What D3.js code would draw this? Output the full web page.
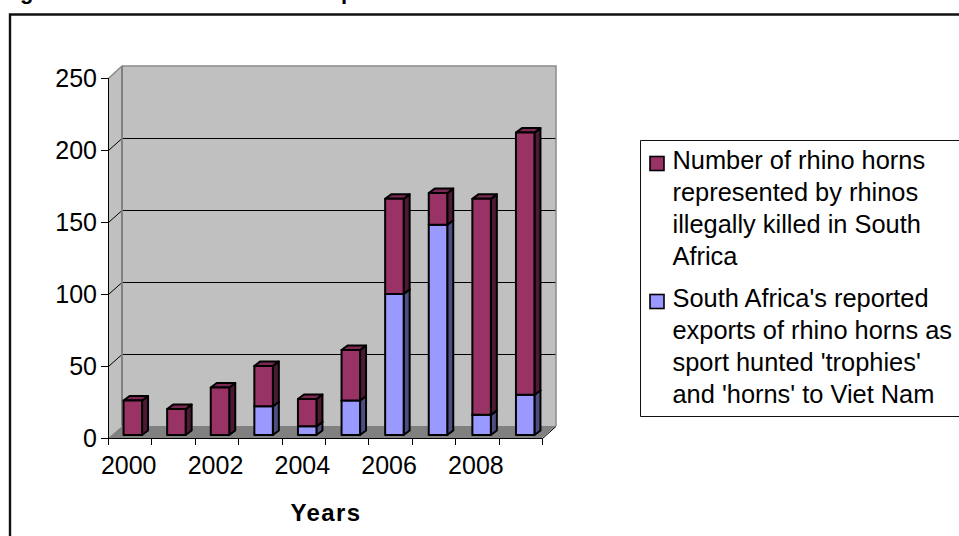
<!DOCTYPE html>
<html><head><meta charset="utf-8">
<script src="https://cdn.jsdelivr.net/npm/d3@7"></script>
<style>html,body{margin:0;background:#fff;overflow:hidden}svg{display:block}text{font-family:"Liberation Sans",Arial,sans-serif;fill:#000}</style>
</head><body><svg id="c" width="959" height="536"></svg>
<script>
const years=[2000,2001,2002,2003,2004,2005,2006,2007,2008,2009];
const exportsHorns=[0,0,0,20,6,24,98,146,14,28];
const killedHorns=[24,18,33,28,19,35,66,22,150,182];
const yTicks=[0,50,100,150,200,250];
const xTickLabels=[2000,2002,2004,2006,2008];
const legendKilled=["Number of rhino horns","represented by rhinos","illegally killed in South","Africa"];
const legendExports=["South Africa's reported","exports of rhino horns as","sport hunted 'trophies'","and 'horns' to Viet Nam"];
const FONT='"Liberation Sans",Arial,sans-serif';

const svg=d3.select("#c");
const x=d3.scaleBand().domain(years).range([108,542]);
const barX=d3.scaleBand().domain(years).range([111,547]);
const y=d3.scaleLinear().domain([0,250]).range([438,78]);
const wallDx=14,wallDy=-12,gapDy=-3,barDx=6,barDy=-4.5,barW=18.5;

// frame
svg.append("path").attr("d","M10 536V14.5H959").attr("fill","none").attr("stroke","#111").attr("stroke-width",2.4);
// title: only the descenders survive the crop at the top of the picture
svg.append("text").attr("x",0.5).attr("y",-1).attr("font-size",22).attr("font-weight","bold").text("Figure");
svg.append("text").attr("x",341).attr("y",-1).attr("font-size",22).attr("font-weight","bold").text("p");

const x0=x.range()[0],x1=x.range()[1];
// walls
svg.append("path").attr("d",`M${x0} ${y(250)}L${x0+wallDx} ${y(250)+wallDy}V${y(0)+wallDy}L${x0} ${y(0)}Z`).attr("fill","#c0c0c0");
svg.append("rect").attr("x",x0+wallDx).attr("y",y(250)+wallDy).attr("width",x1-x0).attr("height",y(0)-y(250)).attr("fill","#c0c0c0");
svg.append("path").attr("d",`M${x0} ${y(0)}L${x0+wallDx} ${y(0)+wallDy}H${x1+wallDx}L${x1} ${y(0)}Z`).attr("fill","#808080");
// grid
yTicks.filter(d=>d>0&&d<250).forEach(d=>{
  svg.append("path").attr("d",`M${x0+.5} ${y(d)+.5}L${x0+wallDx} ${y(d)+wallDy+.5}H${x1+wallDx}`).attr("fill","none").attr("stroke","#000").attr("stroke-width",1);
});
svg.append("path").attr("d",`M${x0+.5} ${y(250)+.5}L${x0+wallDx} ${y(250)+wallDy}H${x1+wallDx}V${y(0)+wallDy}`).attr("fill","none").attr("stroke","#8c8c8c").attr("stroke-width",1.5);
svg.append("path").attr("d",`M${x0+wallDx} ${y(250)+wallDy}V${y(0)+wallDy}`).attr("fill","none").attr("stroke","#808080").attr("stroke-width",2);
svg.append("path").attr("d",`M${x1+.5} ${y(0)+.5}L${x1+wallDx} ${y(0)+wallDy+.5}`).attr("fill","none").attr("stroke","#000").attr("stroke-width",1);

// bars
const base=y(0)+gapDy;
const scaleH=v=>y(0)-y(v);
function seg(px,y0,y1,face,side,top){
  const g=svg.append("g").attr("stroke","#000").attr("stroke-width",2).attr("stroke-linejoin","round");
  g.append("path").attr("d",`M${px+barW} ${y0}L${px+barW+barDx} ${y0+barDy}V${y1+barDy}L${px+barW} ${y1}Z`).attr("fill",side);
  g.append("path").attr("d",`M${px} ${y1}L${px+barDx} ${y1+barDy}H${px+barW+barDx}L${px+barW} ${y1}Z`).attr("fill",top);
  g.append("rect").attr("x",px).attr("y",y1).attr("width",barW).attr("height",y0-y1).attr("fill",face);
}
years.forEach((yr,i)=>{
  const px=barX(yr)+barX.bandwidth()/2-barW/2;
  const e=exportsHorns[i],k=killedHorns[i];
  if(e>0) seg(px,base,base-scaleH(e),"#9999ff","#4d4d80","#7a7acc");
  seg(px,base-scaleH(e),base-scaleH(e+k),"#993366","#4d1a33","#7a2952");
});

// axes
const yAxis=d3.axisLeft(y).tickValues(yTicks).tickSize(7).tickPadding(4);
const ga=svg.append("g").attr("transform",`translate(${x0},0)`).call(yAxis);
ga.selectAll("text").attr("font-size",25).style("font-family",FONT);
ga.select(".domain").attr("stroke","#000");
const xAxisLine=d3.axisBottom(x).tickValues(xTickLabels).tickSize(0).tickPadding(18);
const gx=svg.append("g").attr("transform",`translate(-1,${y(0)})`).call(xAxisLine);
gx.select(".domain").remove();
gx.selectAll("text").attr("font-size",25).style("font-family",FONT);
svg.append("path").attr("d",`M${x0} ${y(0)+.5}H${x1}`).attr("stroke","#000").attr("fill","none");
svg.selectAll(".xt").data(d3.range(years.length+1)).join("line").attr("class","xt")
  .attr("x1",i=>Math.round(x0+i*x.step())+.5).attr("x2",i=>Math.round(x0+i*x.step())+.5).attr("y1",y(0)).attr("y2",y(0)+7).attr("stroke","#000");

svg.append("text").attr("x",326).attr("y",521).attr("text-anchor","middle").attr("font-size",24).attr("font-weight","bold").attr("letter-spacing",1.4).text("Years");

// legend
svg.append("path").attr("d","M959 140.5H640.5V416.5H959").attr("fill","#fff").attr("stroke","#111").attr("stroke-width",1);
function legend(lines,baseline,color,sy){
  svg.append("rect").attr("x",650).attr("y",sy).attr("width",14).attr("height",14).attr("fill",color).attr("stroke","#000").attr("stroke-width",1.6);
  lines.forEach((t,i)=>svg.append("text").attr("x",672.5).attr("y",baseline+i*32).attr("font-size",25.4).text(t));
}
legend(legendKilled,169,"#993366",156.5);
legend(legendExports,307,"#9999ff",294.5);
</script></body></html>
